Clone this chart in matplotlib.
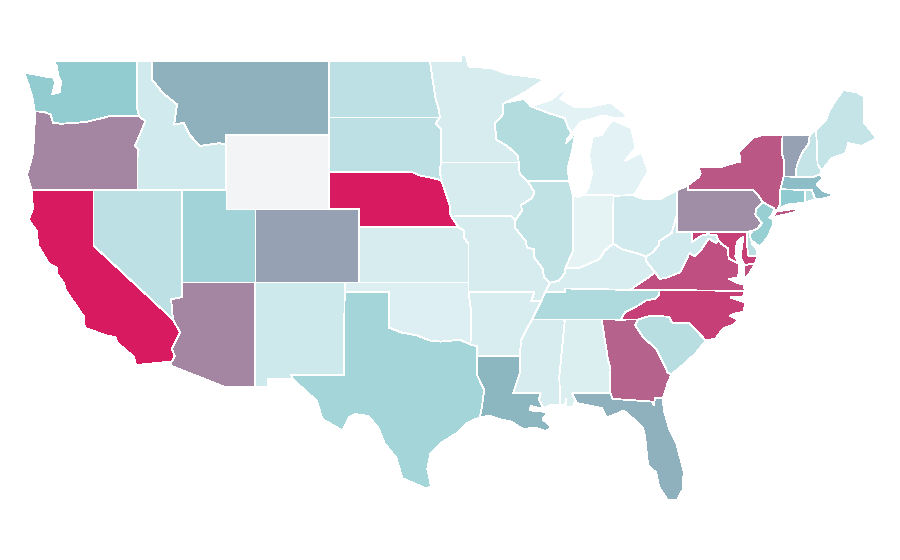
import matplotlib
matplotlib.use('Agg')
import matplotlib.pyplot as plt
from matplotlib.colors import LinearSegmentedColormap, Normalize

# Shared borders as (lon, lat)
RED_NORTH = [(-97.23, 49.0), (-97.05, 48.0), (-96.85, 47.0), (-96.6, 46.3), (-96.56, 45.94)]
MN_SD = [(-96.56, 45.94), (-96.85, 45.6), (-96.45, 45.3), (-96.45, 43.5)]
BIG_SIOUX = [(-96.45, 43.5), (-96.58, 43.1), (-96.44, 42.49)]
IA_NE = [(-96.44, 42.49), (-96.1, 41.7), (-95.9, 41.2), (-95.85, 40.7), (-95.77, 40.58)]
MO_NE = [(-95.77, 40.58), (-95.31, 40.0)]
MO_KS = [(-95.31, 40.0), (-94.9, 39.8), (-94.9, 39.4), (-94.61, 39.1), (-94.62, 36.5)]
NE_SD = [(-96.44, 42.49), (-96.7, 42.6), (-97.9, 42.8), (-98.5, 43.0), (-104.05, 43.0)]

MN_WI = [(-92.1, 46.75), (-92.29, 46.66), (-92.29, 46.1), (-92.85, 45.6), (-92.75, 45.0), (-92.75, 44.75),
         (-92.0, 44.4), (-91.25, 43.85), (-91.22, 43.5)]
WI_IA = [(-91.22, 43.5), (-91.15, 42.9), (-90.64, 42.51)]
IL_IA = [(-90.64, 42.51), (-90.15, 41.9), (-90.35, 41.55), (-91.05, 41.2), (-91.0, 40.9), (-91.42, 40.38)]
IL_MO = [(-91.42, 40.38), (-91.5, 40.0), (-90.75, 39.25), (-90.65, 38.9), (-90.15, 38.8), (-90.2, 38.4),
         (-89.6, 37.75), (-89.5, 37.3), (-89.13, 36.98)]
KY_MO = [(-89.13, 36.98), (-89.4, 36.5)]
TN_MO = [(-89.4, 36.5), (-89.7, 36.0)]
TN_AR = [(-89.7, 36.0), (-89.7, 35.6), (-90.1, 35.13), (-90.3, 35.0)]
MS_AR = [(-90.3, 35.0), (-90.6, 34.6), (-91.05, 33.9), (-91.15, 33.0)]
MS_LA = [(-91.15, 33.0), (-91.1, 32.2), (-91.6, 31.0), (-89.73, 31.0), (-89.85, 30.65), (-89.55, 30.18)]

IL_KY = [(-89.13, 36.98), (-88.5, 37.1), (-88.1, 37.5), (-88.05, 37.8)]
IN_KY = [(-88.05, 37.8), (-87.1, 37.8), (-86.5, 38.0), (-85.75, 38.27), (-85.4, 38.73), (-84.82, 39.1)]
OH_KY = [(-84.82, 39.1), (-84.2, 38.8), (-83.3, 38.6), (-82.6, 38.42)]
OH_WV = [(-82.6, 38.42), (-82.2, 38.6), (-81.75, 39.0), (-81.7, 39.25), (-80.85, 39.7), (-80.52, 40.64)]
WABASH = [(-88.05, 37.8), (-87.55, 38.7), (-87.53, 39.35), (-87.53, 41.7)]

VA_WV = [(-77.72, 39.32), (-77.83, 39.13), (-78.35, 39.38), (-78.87, 38.77), (-79.3, 38.42), (-79.65, 38.6),
         (-80.3, 37.55), (-81.25, 37.25), (-81.68, 37.2), (-81.97, 37.54)]
MD_WV = [(-79.48, 39.72), (-79.48, 39.2), (-78.8, 39.55), (-78.4, 39.62), (-77.83, 39.55), (-77.72, 39.32)]
MD_VA = [(-77.72, 39.32), (-77.5, 39.1), (-77.05, 38.85), (-77.0, 38.3), (-76.3, 38.0)]
NC_TN = [(-81.68, 36.59), (-81.7, 36.35), (-82.0, 36.12), (-82.6, 36.03), (-83.1, 35.77), (-84.0, 35.4), (-84.32, 34.99)]
NC_SC = [(-83.11, 35.0), (-82.3, 35.2), (-81.05, 35.15), (-80.8, 34.82), (-79.67, 34.8), (-78.55, 33.86)]
GA_SC = [(-83.11, 35.0), (-83.35, 34.7), (-82.75, 34.0), (-81.9, 33.4), (-81.4, 32.6), (-81.12, 32.1), (-80.87, 32.03)]
NC_COAST = [(-78.55, 33.86), (-77.9, 33.95), (-77.4, 34.5), (-76.6, 34.75), (-76.4, 35.0), (-76.9, 35.2), (-76.5, 35.35),
            (-76.0, 35.4), (-75.85, 35.9), (-76.2, 36.0), (-76.9, 36.2), (-76.0, 36.25), (-75.9, 36.55)]
PA_NJ = [(-74.7, 41.36), (-75.13, 40.98), (-75.2, 40.68), (-74.75, 40.2), (-75.1, 39.9), (-75.4, 39.8)]
NY_VT = [(-73.35, 45.0), (-73.4, 44.0), (-73.25, 43.6), (-73.28, 42.75)]
NH_VT = [(-71.5, 45.0), (-71.6, 44.5), (-72.05, 44.0), (-72.4, 43.3), (-72.46, 42.73)]
ME_NH = [(-71.08, 45.3), (-70.98, 43.4), (-70.7, 43.07)]
ID_MT = [(-116.05, 48.0), (-115.3, 47.25), (-114.35, 46.65), (-114.55, 45.55), (-113.9, 45.65), (-113.45, 44.95),
         (-112.8, 44.4), (-111.5, 44.55), (-111.05, 44.48)]
OR_WA = [(-124.0, 46.27), (-123.4, 46.25), (-122.9, 46.1), (-122.75, 45.65), (-122.2, 45.6), (-121.2, 45.65),
         (-120.5, 45.7), (-119.3, 45.93), (-118.98, 46.0), (-116.92, 46.0)]
OR_ID = [(-116.92, 46.0), (-116.5, 45.75), (-116.9, 44.95), (-117.2, 44.4), (-116.95, 44.2), (-117.03, 43.8), (-117.03, 42.0)]
CA_AZ = [(-114.63, 35.0), (-114.15, 34.3), (-114.7, 33.4), (-114.5, 33.0), (-114.72, 32.72)]
RED_SOUTH = [(-100.0, 34.56), (-99.2, 34.3), (-98.1, 34.13), (-97.2, 33.85), (-96.5, 33.8), (-95.2, 33.9), (-94.48, 33.64)]
TX_LA = [(-94.04, 33.0), (-94.04, 31.99), (-93.55, 31.2), (-93.7, 30.3), (-93.85, 29.7)]
AL_GA = [(-85.6, 35.0), (-85.18, 32.87), (-85.0, 32.3), (-85.05, 31.5), (-85.0, 31.0)]
GA_FL = [(-85.0, 31.0), (-84.86, 30.7), (-82.2, 30.55), (-82.05, 30.36), (-82.0, 30.75), (-81.45, 30.72)]


def join(*parts):
    pts = []
    for part in parts:
        pts += part
    return pts


# State outlines, a state can have several pieces
shapes = {
    'WA': [[(-117.04, 49.0), (-122.75, 49.0), (-122.5, 48.75), (-122.4, 48.2), (-122.2, 47.9), (-122.3, 47.3), (-122.8, 47.2),
            (-122.6, 47.8), (-122.75, 48.15), (-123.2, 48.15), (-124.72, 48.38), (-124.4, 47.7), (-124.1, 46.9)] + OR_WA +
           [(-117.04, 46.4)]],
    'OR': [join(OR_WA, OR_ID, [(-124.2, 42.0), (-124.5, 42.85), (-124.1, 44.0), (-123.95, 46.2)])],
    'CA': [join([(-124.2, 42.0), (-120.0, 42.0), (-120.0, 39.0)], CA_AZ,
                [(-117.12, 32.53), (-117.3, 33.0), (-118.4, 33.75), (-118.5, 34.03), (-119.2, 34.15), (-120.6, 34.55),
                 (-120.65, 35.15), (-121.9, 36.6), (-122.0, 36.95), (-122.5, 37.5), (-122.5, 37.8), (-123.0, 38.0),
                 (-123.75, 39.0), (-123.85, 39.8), (-124.4, 40.4), (-124.1, 41.0)])],
    'NV': [[(-120.0, 42.0), (-114.04, 42.0), (-114.04, 36.2), (-114.75, 36.1), (-114.63, 35.0), (-120.0, 39.0)]],
    'ID': [join([(-117.04, 49.0), (-116.05, 49.0)], ID_MT, [(-111.05, 42.0)], OR_ID[::-1], [(-117.04, 46.4)])],
    'MT': [join([(-116.05, 49.0), (-104.05, 49.0), (-104.05, 45.0), (-111.05, 45.0)], ID_MT[::-1])],
    'WY': [[(-111.05, 45.0), (-104.05, 45.0), (-104.05, 41.0), (-111.05, 41.0)]],
    'UT': [[(-114.04, 42.0), (-111.05, 42.0), (-111.05, 41.0), (-109.05, 41.0), (-109.05, 37.0), (-114.04, 37.0)]],
    'CO': [[(-109.05, 41.0), (-102.05, 41.0), (-102.05, 37.0), (-109.05, 37.0)]],
    'AZ': [join([(-114.04, 37.0), (-109.05, 37.0), (-109.05, 31.33), (-111.07, 31.33), (-114.8, 32.5)], CA_AZ[::-1],
                [(-114.75, 36.1), (-114.04, 36.2)])],
    'NM': [[(-109.05, 37.0), (-103.0, 37.0), (-103.05, 32.0), (-106.62, 32.0), (-106.53, 31.78), (-108.2, 31.78),
            (-108.2, 31.33), (-109.05, 31.33)]],
    'ND': [join([(-104.05, 49.0)], RED_NORTH, [(-104.05, 45.94)])],
    'SD': [join([(-104.05, 45.94)], MN_SD, BIG_SIOUX, NE_SD)],
    'NE': [join(NE_SD[::-1], IA_NE, MO_NE, [(-102.05, 40.0), (-102.05, 41.0), (-104.05, 41.0)])],
    'KS': [join([(-102.05, 40.0)], MO_KS[:-1], [(-94.62, 37.0), (-102.05, 37.0)])],
    'OK': [join([(-103.0, 37.0), (-94.62, 37.0), (-94.62, 36.5), (-94.43, 35.4)], RED_SOUTH[::-1],
                [(-100.0, 36.5), (-103.0, 36.5)])],
    'TX': [join([(-103.05, 32.0), (-103.0, 36.5), (-100.0, 36.5)], RED_SOUTH, [(-94.04, 33.55)], TX_LA,
                [(-94.7, 29.4), (-95.3, 28.9), (-96.4, 28.35), (-97.2, 27.7), (-97.4, 26.9), (-97.15, 25.96), (-97.5, 25.85),
                 (-99.1, 26.4), (-99.5, 27.5), (-100.3, 28.3), (-100.7, 29.1), (-101.4, 29.77), (-102.3, 29.88),
                 (-102.7, 29.7), (-103.15, 28.98), (-104.5, 29.6), (-104.9, 30.6), (-106.53, 31.78), (-106.62, 32.0)])],
    'MN': [join([(-97.23, 49.0), (-95.15, 49.0), (-95.15, 49.38), (-94.8, 49.3), (-94.6, 48.7), (-93.0, 48.6), (-92.0, 48.3),
                 (-91.0, 48.2), (-90.0, 48.1), (-89.5, 48.0), (-90.8, 47.3)], MN_WI, [(-96.45, 43.5)], MN_SD[::-1], RED_NORTH[::-1])],
    'IA': [join([(-96.45, 43.5)], WI_IA, IL_IA, [(-91.72, 40.6), (-95.77, 40.58)], IA_NE[::-1], BIG_SIOUX[::-1])],
    'MO': [join([(-95.77, 40.58), (-91.72, 40.6)], IL_MO, KY_MO, TN_MO, [(-90.37, 36.0), (-90.15, 36.5)], MO_KS[::-1], MO_NE[::-1])],
    'AR': [join([(-94.62, 36.5), (-90.15, 36.5), (-90.37, 36.0)], TN_AR, MS_AR,
                [(-94.04, 33.0), (-94.04, 33.55), (-94.48, 33.64), (-94.43, 35.4)])],
    'LA': [join(TX_LA[:-1], [(-93.85, 29.7), (-93.2, 29.78), (-92.3, 29.55), (-91.8, 29.5), (-90.9, 29.05), (-90.1, 29.15),
                             (-89.4, 28.95), (-89.0, 29.15), (-89.6, 29.6), (-89.4, 29.8), (-89.4, 30.0), (-89.8, 30.02),
                             (-90.45, 30.08), (-90.4, 30.32), (-89.9, 30.2)], MS_LA[::-1])],
    'WI': [join([(-92.1, 46.75), (-90.85, 46.95), (-90.4, 46.55), (-89.1, 46.15), (-88.1, 45.9), (-87.85, 45.35), (-87.6, 45.1),
                 (-87.95, 44.75), (-88.0, 44.55), (-87.4, 45.1), (-87.55, 44.3), (-87.9, 43.2), (-87.8, 42.5), (-90.64, 42.51)],
                WI_IA[::-1], MN_WI[::-1])],
    'IL': [join([(-90.64, 42.51), (-87.8, 42.5)], WABASH[::-1], IL_KY[::-1], IL_MO[::-1], IL_IA[::-1])],
    'IN': [join([(-87.53, 41.7), (-87.2, 41.63), (-86.82, 41.76), (-84.8, 41.76)], IN_KY[::-1], WABASH)],
    'OH': [join([(-84.82, 39.1), (-84.8, 41.7), (-83.45, 41.73), (-82.7, 41.5), (-81.7, 41.5), (-80.52, 41.98), (-80.52, 40.64)],
                OH_WV[::-1], OH_KY[::-1])],
    'MI': [[(-86.82, 41.76), (-86.5, 42.1), (-86.25, 42.9), (-86.45, 43.9), (-86.2, 44.9), (-85.6, 45.0), (-85.0, 45.7),
            (-84.75, 45.78), (-83.6, 45.37), (-83.3, 44.3), (-84.0, 43.6), (-82.9, 44.05), (-82.45, 43.0), (-82.9, 42.4),
            (-83.15, 42.05), (-83.45, 41.73), (-84.8, 41.7), (-84.8, 41.76)],
           [(-90.4, 46.55), (-89.0, 46.9), (-88.45, 47.3), (-87.9, 47.45), (-88.4, 46.95), (-87.4, 46.5), (-86.5, 46.5), (-85.0, 46.75),
            (-84.6, 46.5), (-84.1, 46.2), (-83.9, 45.95), (-84.75, 45.9), (-85.5, 46.05), (-86.5, 45.8), (-87.0, 45.7), (-87.6, 45.1),
            (-87.85, 45.35), (-88.1, 45.9), (-89.1, 46.15)]],
    'KY': [join([(-89.4, 36.5), (-88.07, 36.5), (-88.07, 36.68), (-83.68, 36.6), (-81.97, 37.54), (-82.6, 38.17)],
                OH_KY[::-1], IN_KY[::-1], IL_KY[::-1], KY_MO[::-1])],
    'TN': [join([(-89.7, 36.0), (-89.4, 36.5), (-88.07, 36.5), (-88.07, 36.68), (-83.68, 36.6)], NC_TN, [(-85.6, 35.0), (-88.2, 35.0)],
                TN_AR[::-1][:1])],
    'MS': [join(MS_AR, MS_LA, [(-89.0, 30.38), (-88.4, 30.35), (-88.47, 31.9), (-88.1, 34.9), (-88.2, 35.0)])],
    'AL': [join([(-88.2, 35.0)], AL_GA, [(-87.6, 31.0), (-87.4, 30.65), (-87.5, 30.3), (-88.0, 30.23), (-88.0, 30.7), (-88.1, 30.35),
                                         (-88.4, 30.35), (-88.47, 31.9), (-88.1, 34.9)])],
    'GA': [join([(-85.6, 35.0), (-84.32, 34.99)], GA_SC, [(-81.15, 31.5)], GA_FL[::-1], AL_GA[::-1])],
    'FL': [join([(-87.6, 31.0)], GA_FL, [(-81.4, 30.1), (-81.0, 29.0), (-80.55, 28.3), (-80.05, 26.8), (-80.1, 25.8), (-80.5, 25.2), (-81.1, 25.2),
                                         (-81.7, 25.9), (-81.9, 26.7), (-82.45, 27.1), (-82.55, 27.8), (-82.65, 28.6), (-82.8, 29.1), (-83.5, 29.65),
                                         (-84.1, 30.06), (-85.25, 29.68), (-85.6, 30.2), (-87.3, 30.47), (-87.4, 30.65)])],
    'SC': [join(NC_SC, [(-79.2, 33.2), (-80.0, 32.6)], GA_SC[::-1])],
    'NC': [join(NC_TN, [(-83.11, 35.0)], NC_SC[1:], NC_COAST[1:], [(-81.68, 36.59)])],
    'VA': [join(VA_WV, [(-83.68, 36.6), (-81.68, 36.59), (-75.9, 36.55), (-76.0, 36.9), (-76.3, 36.95), (-77.0, 37.2), (-76.4, 37.25),
                        (-76.3, 37.6)], MD_VA[::-1]),
           [(-75.95, 37.95), (-75.2, 38.03), (-75.6, 37.5), (-75.95, 37.15)]],
    'WV': [join([(-80.52, 40.64), (-80.52, 39.72)], MD_WV, VA_WV, [(-82.6, 38.17)], OH_WV)],
    'MD': [join([(-79.48, 39.72), (-75.79, 39.72), (-75.7, 38.46), (-75.05, 38.45), (-75.2, 38.03), (-75.95, 37.95), (-76.2, 38.4),
                 (-76.1, 38.9), (-76.0, 39.5), (-76.45, 39.2), (-76.55, 38.4)], MD_VA[::-1], MD_WV[::-1])],
    'DE': [[(-75.79, 39.72), (-75.6, 39.83), (-75.4, 39.8), (-75.55, 39.5), (-75.4, 39.1), (-75.1, 38.8), (-75.05, 38.45), (-75.7, 38.46)]],
    'PA': [join([(-80.52, 41.98), (-79.76, 42.27), (-79.76, 42.0), (-75.35, 42.0), (-75.05, 41.77)], PA_NJ, [(-75.79, 39.72), (-80.52, 39.72)])],
    'NJ': [join([(-73.9, 41.0)], PA_NJ, [(-75.55, 39.6), (-75.5, 39.3), (-74.9, 38.95), (-74.4, 39.4), (-74.0, 40.1), (-74.0, 40.45),
                                         (-74.25, 40.5), (-74.05, 40.7)])],
    'NY': [join([(-79.76, 42.27), (-79.05, 42.7), (-78.9, 42.9), (-79.05, 43.27), (-77.5, 43.27), (-76.5, 43.5), (-76.2, 43.55), (-76.3, 44.1),
                 (-75.3, 44.85), (-74.7, 45.0)], NY_VT, [(-73.5, 42.05), (-73.5, 41.3), (-73.65, 41.0), (-73.9, 40.85), (-73.9, 41.0),
                                                         (-74.7, 41.36), (-75.05, 41.77), (-75.35, 42.0), (-79.76, 42.0)]),
           [(-74.0, 40.6), (-73.75, 40.85), (-72.6, 40.98), (-72.0, 41.1), (-72.6, 40.8), (-73.9, 40.55)]],
    'CT': [[(-73.5, 42.05), (-71.8, 42.02), (-71.85, 41.32), (-72.9, 41.25), (-73.65, 41.0), (-73.5, 41.3)]],
    'RI': [[(-71.8, 42.02), (-71.38, 42.02), (-71.13, 41.5), (-71.4, 41.45), (-71.85, 41.32)]],
    'MA': [[(-73.5, 42.05), (-73.28, 42.75), (-72.46, 42.73), (-71.3, 42.7), (-70.82, 42.87), (-70.6, 42.65), (-71.05, 42.3), (-70.6, 41.95),
            (-70.05, 41.8), (-70.2, 42.05), (-69.95, 41.7), (-70.6, 41.55), (-71.13, 41.5), (-71.38, 42.02), (-71.8, 42.02)]],
    'VT': [join(NY_VT[::-1], NH_VT)],
    'NH': [join(NH_VT, [(-71.3, 42.7), (-70.82, 42.87)], ME_NH[::-1])],
    'ME': [join(ME_NH, [(-70.0, 43.75), (-69.1, 44.0), (-68.9, 44.55), (-68.0, 44.4), (-67.0, 44.8), (-67.45, 45.3), (-67.85, 45.65), (-67.85, 47.07),
                        (-68.3, 47.3), (-69.05, 47.4), (-69.23, 47.46), (-69.9, 46.7), (-70.25, 46.2), (-70.4, 45.8)])],
}

states = ['WA', 'OR', 'CA', 'NV', 'ID', 'MT', 'WY', 'UT', 'CO', 'AZ', 'NM', 'ND', 'SD', 'NE', 'KS', 'OK', 'TX',
          'MN', 'IA', 'MO', 'AR', 'LA', 'WI', 'IL', 'IN', 'OH', 'MI', 'KY', 'TN', 'MS', 'AL', 'GA', 'FL', 'SC',
          'NC', 'VA', 'WV', 'MD', 'DE', 'PA', 'NJ', 'NY', 'CT', 'RI', 'MA', 'VT', 'NH', 'ME']
values = [39, 63, 100, 22, 14, 48, 0, 33, 53, 63, 15, 22, 22, 100, 12, 9, 32,
          12, 12, 12, 11, 46, 26, 21, 6, 14, 7, 11, 28, 12, 10, 75, 48, 24,
          87, 82, 14, 87, 24, 60, 37, 79, 40, 25, 44, 53, 19, 19]

cmap = LinearSegmentedColormap.from_list('states', [(0, '#f3f4f6'), (0.06, '#e5f3f5'), (0.4, '#8fcbd0'),
                                                    (0.46, '#8cb6c0'), (1, '#d81b60')])
norm = Normalize(0, 100)

fig = plt.figure(figsize=(9, 5.6), dpi=100)
ax = fig.add_axes([0, 0, 1, 1])

for name, val in zip(states, values):
    for piece in shapes[name]:
        lons = [p[0] for p in piece]
        lats = [p[1] for p in piece]
        ax.fill(lons, lats, facecolor=cmap(norm(val)), edgecolor='white', linewidth=0.6, antialiased=False)

ax.set_xlim(-126.336, -65.40)
ax.set_ylim(21.97, 52.304)
ax.axis('off')

plt.savefig('out.png', dpi=100)
